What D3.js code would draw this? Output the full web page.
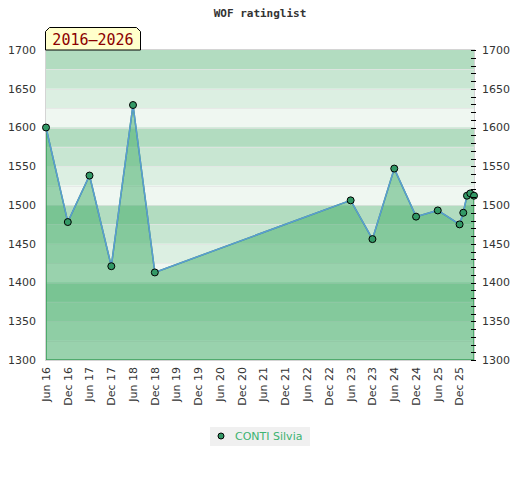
<!DOCTYPE html>
<html>
<head>
<meta charset="utf-8">
<script src="https://cdn.jsdelivr.net/npm/d3@7"></script>
<style>
  body { margin: 0; background: #fff; }
  svg text { font-family: "DejaVu Sans", sans-serif; }
</style>
</head>
<body>
<div id="root"></div>
<script>
// rating list dates (YYYY-MM) and ratings
const dates = ['2016-06', '2016-12', '2017-06', '2017-12', '2018-06', '2018-12',
  '2023-06', '2023-12', '2024-06', '2024-12', '2025-06', '2025-12',
  '2026-01', '2026-02', '2026-03', '2026-04'];
const ratings = [1600, 1478, 1538, 1421, 1629, 1413,
  1506, 1456, 1547, 1485, 1493, 1475,
  1490, 1512, 1515, 1512];
const playerName = 'CONTI Silvia';
const periodLabel = '2016\u20132026';
const chartTitle = 'WOF ratinglist';
const yTicks = [1300, 1350, 1400, 1450, 1500, 1550, 1600, 1650, 1700];
const bandColours = ['#b2dcc0', '#c8e6d2', '#dcefe2', '#eff7f1'];

const config = {
  width: 520,
  height: 480,
  left: 46,
  right: 474,
  top: 50,
  bottom: 360
};

const parse = d3.timeParse('%Y-%m');
const data = dates.map((d, i) => ({ date: parse(d), rating: ratings[i] }));

const x = d3.scaleTime()
  .domain([parse('2016-06'), parse('2026-04')])
  .range([config.left, config.right]);

const y = d3.scaleLinear()
  .domain([1300, 1700])
  .range([config.bottom, config.top]);

const chart = d3.select('#root')
  .append('svg:svg')
  .attr('width', config.width)
  .attr('height', config.height);

// Title
chart.append('text')
  .attr('x', 260)
  .attr('y', 17)
  .attr('text-anchor', 'middle')
  .style('font-family', '"DejaVu Sans Mono", monospace')
  .style('font-weight', 'bold')
  .style('font-size', '11px')
  .attr('fill', '#333')
  .text(chartTitle);

// Background bands, 25 points each, darkest at the top of every hundred
const bandStarts = d3.range(1700, 1300, -25);
chart.append('g')
  .selectAll('rect')
  .data(bandStarts)
  .enter()
    .append('rect')
    .attr('x', config.left)
    .attr('width', config.right - config.left)
    .attr('y', d => y(d))
    .attr('height', d => y(d - 25) - y(d))
    .attr('fill', (d, i) => bandColours[i % 4]);

// faint lines between bands
chart.append('g')
  .selectAll('line')
  .data(bandStarts.slice(1))
  .enter()
    .append('line')
    .attr('x1', config.left)
    .attr('x2', config.right)
    .attr('y1', d => Math.round(y(d)) + 0.5)
    .attr('y2', d => Math.round(y(d)) + 0.5)
    .attr('stroke', '#e2e2e2')
    .attr('stroke-opacity', 0.7);

// Area under the rating line
const area = d3.area()
  .x(d => x(d.date))
  .y0(y(1300))
  .y1(d => y(d.rating));

chart.append('path')
  .datum(data)
  .attr('d', area)
  .attr('fill', 'rgb(59,170,98)')
  .attr('fill-opacity', 0.48)
  .attr('stroke', '#3a9e5a')
  .attr('stroke-width', 1.5);

// Frame of the plot
chart.append('rect')
  .attr('x', config.left - 0.5)
  .attr('y', config.top - 0.5)
  .attr('width', config.right - config.left + 1)
  .attr('height', config.bottom - config.top + 1)
  .attr('fill', 'none')
  .attr('stroke', '#d4d4d4');

// Rating line
const line = d3.line()
  .x(d => x(d.date))
  .y(d => y(d.rating));

chart.append('path')
  .datum(data)
  .attr('d', line)
  .attr('fill', 'none')
  .attr('stroke', '#5b9bd5')
  .attr('stroke-width', 1.5);

// Points
chart.append('g')
  .selectAll('circle')
  .data(data)
  .enter()
    .append('circle')
    .attr('cx', d => x(d.date))
    .attr('cy', d => y(d.rating))
    .attr('r', 3.5)
    .attr('fill', '#339966')
    .attr('stroke', '#000')
    .attr('stroke-width', 1);

// Left axis labels
chart.append('g')
  .selectAll('text')
  .data(yTicks)
  .enter()
    .append('text')
    .attr('x', 36)
    .attr('y', d => y(d))
    .attr('dy', '0.35em')
    .attr('text-anchor', 'end')
    .style('font-size', '11px')
    .attr('fill', '#333')
    .text(d => d);

// Right axis: minor ticks every 10 and labels every 50
chart.append('g')
  .selectAll('line')
  .data(d3.range(1300, 1701, 10))
  .enter()
    .append('line')
    .attr('x1', config.right - 3)
    .attr('x2', config.right + 2)
    .attr('y1', d => Math.round(y(d)) + 0.5)
    .attr('y2', d => Math.round(y(d)) + 0.5)
    .attr('stroke', '#000');

chart.append('g')
  .selectAll('text')
  .data(yTicks)
  .enter()
    .append('text')
    .attr('x', 482)
    .attr('y', d => y(d))
    .attr('dy', '0.35em')
    .style('font-size', '11px')
    .attr('fill', '#333')
    .text(d => d);

// X labels every six months (Jun / Dec), rotated
const xTicks = d3.timeMonth.range(parse('2016-06'), parse('2026-01'), 6);
const fmt = d3.timeFormat('%b %y');
chart.append('g')
  .selectAll('text')
  .data(xTicks)
  .enter()
    .append('text')
    .attr('transform', d => `translate(${x(d)},367) rotate(-90)`)
    .attr('dy', '0.35em')
    .attr('text-anchor', 'end')
    .style('font-size', '11px')
    .attr('fill', '#333')
    .text(d => fmt(d));

// Period badge with chamfered top corners
const bx = 45.5, by = 27.5, bw = 95, bh = 22.5, c = 4;
chart.append('path')
  .attr('d', `M${bx},${by + bh} L${bx},${by + c} L${bx + c},${by} L${bx + bw - c},${by} L${bx + bw},${by + c} L${bx + bw},${by + bh} Z`)
  .attr('fill', '#ffffcc')
  .attr('stroke', '#000');

chart.append('text')
  .attr('x', bx + bw / 2)
  .attr('y', 45)
  .attr('text-anchor', 'middle')
  .style('font-family', '"DejaVu Sans Mono", monospace')
  .style('font-size', '15px')
  .attr('fill', '#8b0000')
  .text(periodLabel);

// Legend
const legend = chart.append('g');
legend.append('rect')
  .attr('x', 210)
  .attr('y', 427)
  .attr('width', 100)
  .attr('height', 19)
  .attr('fill', '#f0f0f0');
legend.append('circle')
  .attr('cx', 221)
  .attr('cy', 436)
  .attr('r', 3)
  .attr('fill', '#339966')
  .attr('stroke', '#000');
legend.append('text')
  .attr('x', 235)
  .attr('y', 440)
  .style('font-size', '11px')
  .attr('fill', '#3cb371')
  .text(playerName);
</script>
</body>
</html>
